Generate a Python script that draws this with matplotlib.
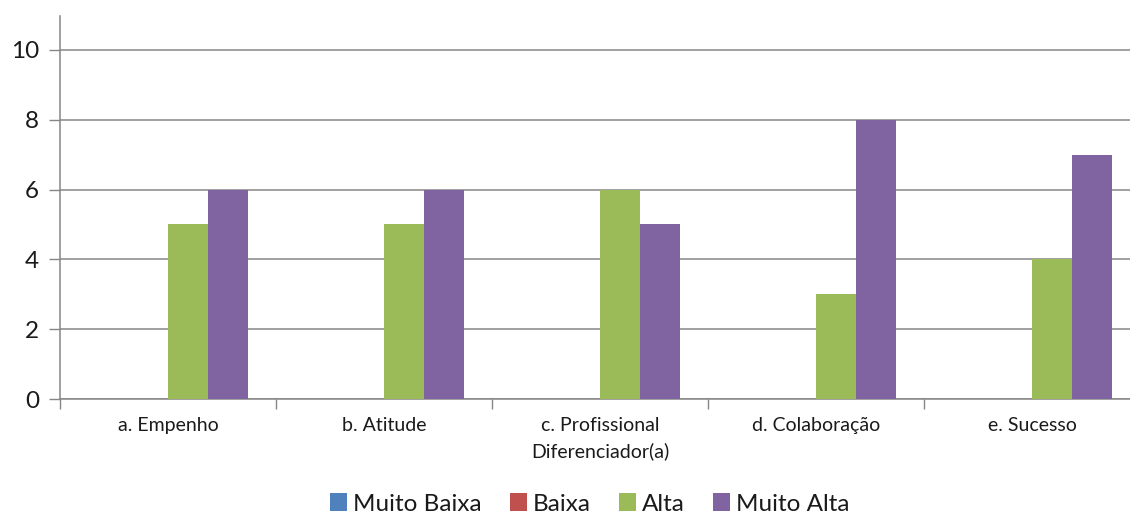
import matplotlib
matplotlib.use("Agg")
import matplotlib.pyplot as plt
import numpy as np
from matplotlib.patches import Patch

categories = ["a. Empenho", "b. Atitude", "c. Profissional\nDiferenciador(a)", "d. Colaboração", "e. Sucesso"]
series_names = ["Muito Baixa", "Baixa", "Alta", "Muito Alta"]
muito_baixa = [0, 0, 0, 0, 0]
baixa = [0, 0, 0, 0, 0]
alta = [5, 5, 6, 3, 4]
muito_alta = [6, 6, 5, 8, 7]
colors = ["#4F81BD", "#C0504D", "#9BBB59", "#8064A2"]
yticks = [0, 2, 4, 6, 8, 10]

plt.rcParams['font.family'] = ['Lato', 'DejaVu Sans']

W, H = 1130, 515
fig = plt.figure(figsize=(W/100, H/100), dpi=100)
left, right, bottom, top = 60, 1140, 399, 16
ax = fig.add_axes([left/W, (H-bottom)/H, (right-left)/W, (bottom-top)/H])

x = np.arange(len(categories))
bw = 0.185
data = [muito_baixa, baixa, alta, muito_alta]
for i, (vals, c) in enumerate(zip(data, colors)):
    ax.bar(x + (i - 1.5) * bw, vals, width=bw, color=c, align='center', zorder=3, linewidth=0)

ax.set_xlim(-0.5, len(categories) - 0.5)
ax.set_ylim(0, 10.97)
ax.set_yticks(yticks)
ax.yaxis.grid(True, color="#868686", linewidth=1.1, zorder=0)
ax.set_yticklabels([str(v) for v in yticks], fontsize=17.5, color="#1a1a1a")
ax.tick_params(axis='y', length=8, color="#868686", width=1, pad=7)

ax.set_xticks(x)
ax.set_xticklabels(categories, fontsize=14, color="#1a1a1a", linespacing=1.55)
ax.tick_params(axis='x', length=0, pad=13)
ax.set_xticks(np.arange(-0.5, len(categories)), minor=True)
ax.tick_params(axis='x', which='minor', length=7, color="#868686", width=1)

for s in ['top', 'right']:
    ax.spines[s].set_visible(False)
for s in ['left', 'bottom']:
    ax.spines[s].set_color("#868686")
    ax.spines[s].set_linewidth(1.1)

handles = [Patch(facecolor=c, edgecolor='none') for c in colors]
fig.legend(handles, series_names, loc='center', bbox_to_anchor=(590/W, (H-504)/H),
           ncol=4, frameon=False, fontsize=17.5, handlelength=0.7, handleheight=0.7,
           handletextpad=0.25, columnspacing=1.15, labelcolor="#1a1a1a")

fig.savefig("out.png", dpi=100)
